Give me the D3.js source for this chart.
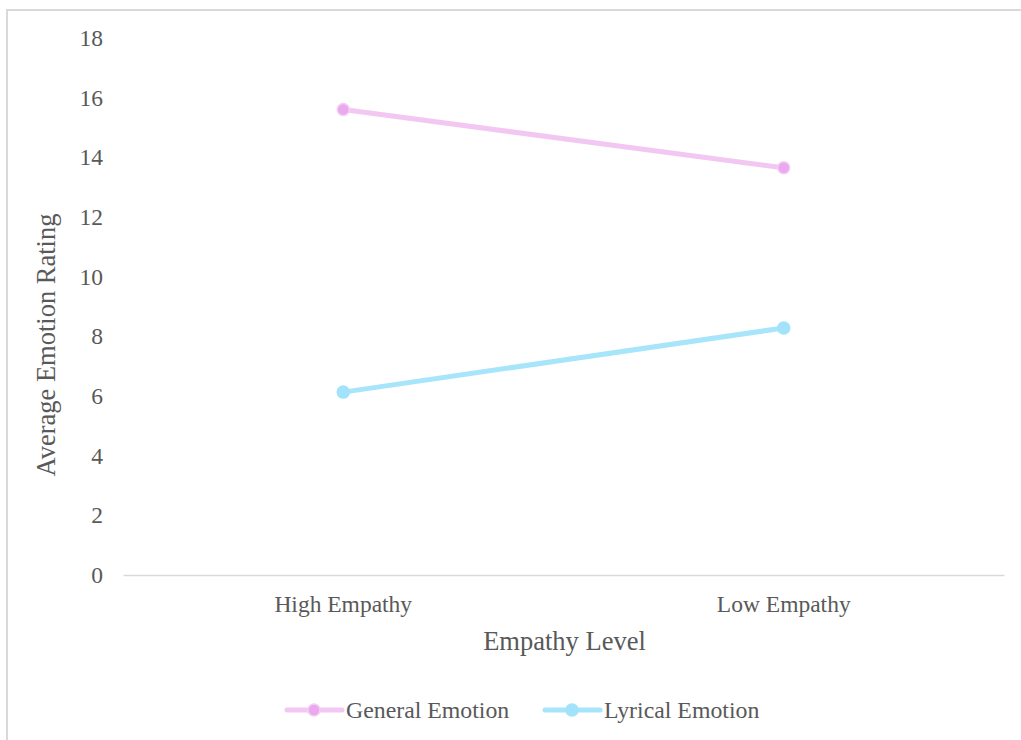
<!DOCTYPE html>
<html>
<head>
<meta charset="utf-8">
<script src="https://cdn.jsdelivr.net/npm/d3@7"></script>
<style>
  html, body { margin: 0; padding: 0; background: #fff; }
  svg { display: block; }
</style>
</head>
<body>
<svg id="chart" width="1021" height="740"></svg>
<script>
// Empathy level groups on the x axis
const categories = ["High Empathy", "Low Empathy"];
// Average emotion ratings for each series
const generalEmotion = [15.6, 13.65];
const lyricalEmotion = [6.13, 8.28];
const seriesNames = ["General Emotion", "Lyrical Emotion"];
const yTicks = [0, 2, 4, 6, 8, 10, 12, 14, 16, 18];

const FONT = "'Liberation Serif', 'Times New Roman', serif";
const INK = "#595959";

const series = [
  { name: seriesNames[0], values: generalEmotion, line: "#f2c8f3", dot: "#eaa9ef", ring: "#f4cdf5" },
  { name: seriesNames[1], values: lyricalEmotion, line: "#a7e5fb", dot: "#a2e3fb", ring: "#a2e3fb" }
];

const svg = d3.select("#chart")
  .style("font-family", FONT);

// outer chart frame
svg.append("rect")
  .attr("x", 7).attr("y", 10)
  .attr("width", 1030).attr("height", 750)
  .attr("fill", "none")
  .attr("stroke", "#d9d9d9")
  .attr("stroke-width", 2);

const plot = { left: 123, right: 1004, top: 38, bottom: 575 };

const x = d3.scaleBand()
  .domain(categories)
  .range([plot.left, plot.right]);

const y = d3.scaleLinear()
  .domain([0, 18])
  .range([plot.bottom, plot.top]);

// y axis tick labels (no axis line)
const yAxis = d3.axisLeft(y).tickValues(yTicks).tickSize(0).tickPadding(0);
const gy = svg.append("g")
  .attr("transform", `translate(${plot.left - 20},0)`)
  .call(yAxis)
  .attr("font-family", FONT);
gy.select(".domain").remove();
gy.selectAll("text")
  .style("font-family", FONT)
  .attr("font-size", 23.5)
  .attr("fill", INK);

// x axis baseline and category labels
const xAxis = d3.axisBottom(x).tickSize(0).tickPadding(0);
const gx = svg.append("g")
  .attr("transform", `translate(0,${plot.bottom})`)
  .call(xAxis)
  .attr("font-family", FONT);
gx.select(".domain").attr("stroke", "#d9d9d9").attr("stroke-width", 1.5);
gx.selectAll("text")
  .style("font-family", FONT)
  .attr("font-size", 23.5)
  .attr("y", 29)
  .attr("dy", "0.35em")
  .attr("fill", INK);

// axis titles
svg.append("text")
  .attr("x", (plot.left + plot.right) / 2 + 1)
  .attr("y", 641)
  .attr("dy", "0.35em")
  .attr("text-anchor", "middle")
  .attr("font-size", 26.5)
  .attr("fill", INK)
  .style("font-family", FONT)
  .text("Empathy Level");

svg.append("text")
  .attr("transform", "translate(46,345) rotate(-90)")
  .attr("text-anchor", "middle")
  .attr("dy", "0.35em")
  .attr("font-size", 26.5)
  .attr("fill", INK)
  .style("font-family", FONT)
  .text("Average Emotion Rating");

// series lines and markers
const cx = c => x(c) + x.bandwidth() / 2;
const lineGen = d3.line()
  .x((d, i) => cx(categories[i]))
  .y(d => y(d));

series.forEach(s => {
  svg.append("path")
    .datum(s.values)
    .attr("d", lineGen)
    .attr("fill", "none")
    .attr("stroke", s.line)
    .attr("stroke-width", 5)
    .attr("stroke-linecap", "round");
  svg.selectAll(null)
    .data(s.values)
    .enter().append("circle")
    .attr("cx", (d, i) => cx(categories[i]))
    .attr("cy", d => y(d))
    .attr("r", 6)
    .attr("fill", s.dot)
    .attr("stroke", s.ring)
    .attr("stroke-width", 1.5);
});

// legend
const legendItems = [
  { s: series[0], x: 287 },
  { s: series[1], x: 545 }
];
legendItems.forEach(item => {
  const g = svg.append("g").attr("transform", `translate(${item.x},710)`);
  g.append("line")
    .attr("x1", 0).attr("x2", 55)
    .attr("y1", 0).attr("y2", 0)
    .attr("stroke", item.s.line)
    .attr("stroke-width", 5)
    .attr("stroke-linecap", "round");
  g.append("circle")
    .attr("cx", 27).attr("cy", 0).attr("r", 6)
    .attr("fill", item.s.dot)
    .attr("stroke", item.s.ring)
    .attr("stroke-width", 1.5);
  g.append("text")
    .attr("x", 59).attr("y", 0)
    .attr("dy", "0.35em")
    .attr("font-size", 23.8)
    .attr("fill", INK)
    .style("font-family", FONT)
    .text(item.s.name);
});
</script>
</body>
</html>
